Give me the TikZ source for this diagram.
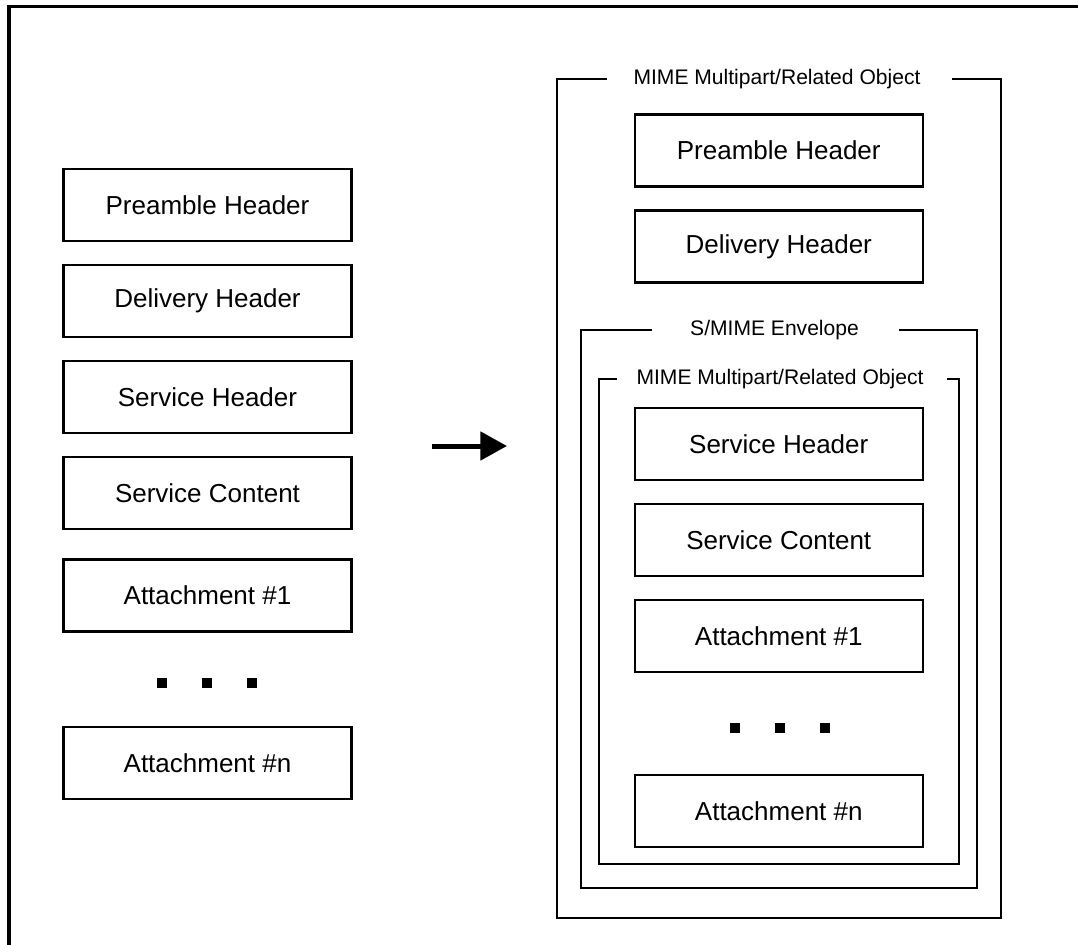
\documentclass[tikz,border=0pt]{standalone}
\usepackage{fontspec}
\setmainfont{Liberation Sans}
\usetikzlibrary{arrows.meta}
\begin{document}
\begin{tikzpicture}[x=0.75pt,y=-0.75pt,
  box/.style={draw, line width=1.6pt, minimum width=216pt, minimum height=54pt, inner sep=0pt,
    font=\fontsize{19.5}{23}\selectfont},
  frameline/.style={line width=1.6pt},
  title/.style={inner sep=0pt, font=\fontsize{15.8}{18}\selectfont},
  dotsq/.style={fill=black, minimum size=8pt, inner sep=0pt},
  bigarrow/.style={line width=3.75pt, -{Triangle[length=20pt,width=21pt]}}]
\useasboundingbox (0,0) rectangle (1078,945);
% outer frame
\draw[line width=2.4pt] (9,945) -- (9,6.5) -- (1078,6.5);

% left column
\node[box] (lp) at (207.5,205) {Preamble Header};
\node[box] (ld) at (207.5,301) {Delivery Header};
\node[box] (lsh) at (207.5,397) {Service Header};
\node[box] (lsc) at (207.5,493) {Service Content};
\node[box] (la1) at (207.5,595.5) {Attachment \#1};
\node[dotsq] (ld1) at (162,683) {};
\node[dotsq] (ld2) at (207,683) {};
\node[dotsq] (ld3) at (252,683) {};
\node[box] (lan) at (207.5,763) {Attachment \#n};

% arrow
\coordinate (as) at (432,446);
\coordinate (ae) at (507,446);
\draw[bigarrow] (as) -- (ae);

% outer MIME container
\draw[frameline] (607,79) -- (557,79) -- (557,918) -- (1001,918) -- (1001,79) -- (952,79);
\node[title] (t1) at (777,79) {MIME\ Multipart/Related Object};

% S/MIME envelope
\draw[frameline] (652,330) -- (581,330) -- (581,888) -- (977,888) -- (977,330) -- (899,330);
\node[title] (t2) at (774.5,330) {S/MIME\ Envelope};

% inner MIME container
\draw[frameline] (617,379) -- (599,379) -- (599,864) -- (959,864) -- (959,379) -- (947,379);
\node[title] (t3) at (780,379) {MIME\ Multipart/Related Object};

% right column
\node[box] (rp) at (778.75,150.5) {Preamble Header};
\node[box] (rd) at (778.75,246.5) {Delivery Header};
\node[box] (rsh) at (778.75,444) {Service Header};
\node[box] (rsc) at (778.75,540) {Service Content};
\node[box] (ra1) at (778.75,636) {Attachment \#1};
\node[dotsq] (rd1) at (735,728) {};
\node[dotsq] (rd2) at (780,728) {};
\node[dotsq] (rd3) at (825,728) {};
\node[box] (ran) at (778.75,811) {Attachment \#n};
\end{tikzpicture}
\end{document}
